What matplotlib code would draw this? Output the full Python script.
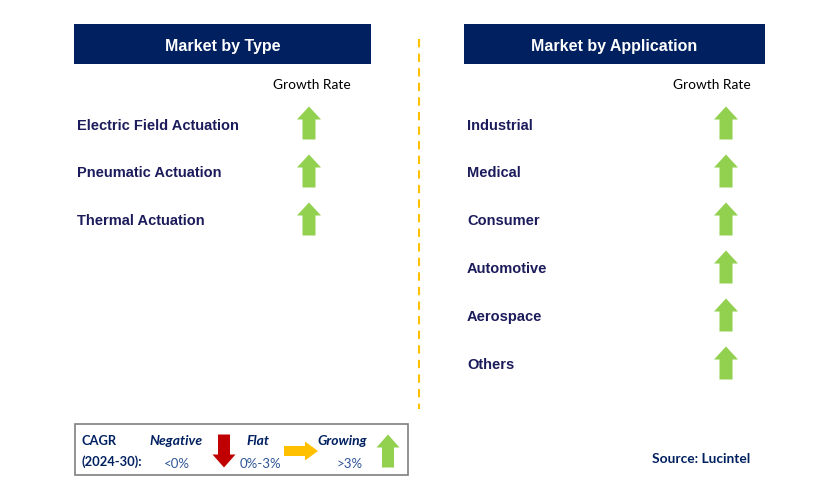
import matplotlib.pyplot as plt
from matplotlib.patches import Polygon, Rectangle

# data
type_segments = ['Electric Field Actuation', 'Pneumatic Actuation', 'Thermal Actuation']
type_growth = ['up', 'up', 'up']
app_segments = ['Industrial', 'Medical', 'Consumer', 'Automotive', 'Aerospace', 'Others']
app_growth = ['up', 'up', 'up', 'up', 'up', 'up']
legend_items = [('Negative', '<0%', 'down'), ('Flat', '0%-3%', 'right'), ('Growing', '>3%', 'up')]

NAVY = '#002060'
TEXT = '#1c1c5c'
GREEN = '#92d050'
RED = '#c00000'
GOLD = '#ffc000'
ARROW_COLORS = {'up': GREEN, 'down': RED, 'right': GOLD}

fig = plt.figure(figsize=(8.29, 5.02), dpi=100)
ax = fig.add_axes([0, 0, 1, 1])
ax.set_xlim(0, 829)
ax.set_ylim(502, 0)
ax.axis('off')


def arrow(cx, cy, kind, w=24, h=33, shaft=13, head=13):
    c = ARROW_COLORS[kind]
    if kind == 'up':
        pts = [(cx, cy - h / 2), (cx + w / 2, cy - h / 2 + head), (cx + shaft / 2, cy - h / 2 + head),
               (cx + shaft / 2, cy + h / 2), (cx - shaft / 2, cy + h / 2), (cx - shaft / 2, cy - h / 2 + head),
               (cx - w / 2, cy - h / 2 + head)]
    elif kind == 'down':
        pts = [(cx, cy + h / 2), (cx + w / 2, cy + h / 2 - head), (cx + shaft / 2, cy + h / 2 - head),
               (cx + shaft / 2, cy - h / 2), (cx - shaft / 2, cy - h / 2), (cx - shaft / 2, cy + h / 2 - head),
               (cx - w / 2, cy + h / 2 - head)]
    else:
        pts = [(cx + h / 2, cy), (cx + h / 2 - head, cy - w / 2), (cx + h / 2 - head, cy - shaft / 2),
               (cx - h / 2, cy - shaft / 2), (cx - h / 2, cy + shaft / 2), (cx + h / 2 - head, cy + shaft / 2),
               (cx + h / 2 - head, cy + w / 2)]
    ax.add_patch(Polygon(pts, closed=True, facecolor=c, edgecolor='none'))


def panel(x0, x1, title, segments, growth, arrow_x, label_x, gr_x):
    ax.add_patch(Rectangle((x0, 25), x1 - x0, 40, facecolor=NAVY, edgecolor='none'))
    ax.text((x0 + x1) / 2, 46, title, color='white', fontsize=11.5, fontweight='bold',
            family='Liberation Sans', ha='center', va='center')
    ax.text(gr_x, 85, 'Growth Rate', color='black', fontsize=9.9, family='Lato',
            ha='center', va='center')
    for i, (s, g) in enumerate(zip(segments, growth)):
        y = 124 + 48 * i
        ax.text(label_x, y + 1.5, s, color=TEXT, fontsize=10.5, fontweight='bold',
                family='Liberation Sans', ha='left', va='center')
        arrow(arrow_x, y, g)


panel(74, 371, 'Market by Type', type_segments, type_growth, 309, 77, 312)
panel(464, 765, 'Market by Application', app_segments, app_growth, 726, 467, 712)

# divider
ax.plot([419, 419], [40, 410], color=GOLD, lw=1.5, ls=(0, (4, 3)))

# legend box
ax.add_patch(Rectangle((75, 425), 333, 51, facecolor='white', edgecolor='#7f7f7f', lw=1.2))
ax.text(82, 441, 'CAGR', color=NAVY, fontsize=9.3, fontweight='bold', family='Lato', va='center')
ax.text(82, 462, '(2024-30):', color=NAVY, fontsize=9.3, fontweight='bold', family='Lato', va='center')
label_cx = [176, 258, 342]
value_cx = [177, 260, 350]
arrow_cx = [224, 301, 388]
for (name, rng, kind), lx, vx, axx in zip(legend_items, label_cx, value_cx, arrow_cx):
    ax.text(lx, 441, name, color=NAVY, fontsize=10, fontweight='bold', style='italic',
            family='Lato', ha='center', va='center')
    ax.text(vx, 464, rng, color='#2f5597', fontsize=9.5, family='Lato', ha='center', va='center')
    if kind == 'right':
        arrow(axx, 452, kind, w=19, h=34, shaft=10, head=13)
    else:
        arrow(axx, 452, kind, w=23, h=33, shaft=12, head=13)

ax.text(750, 459, 'Source: Lucintel', color=NAVY, fontsize=9.9, fontweight='bold', family='Lato',
        ha='right', va='center')

fig.savefig('out.png', dpi=100)
